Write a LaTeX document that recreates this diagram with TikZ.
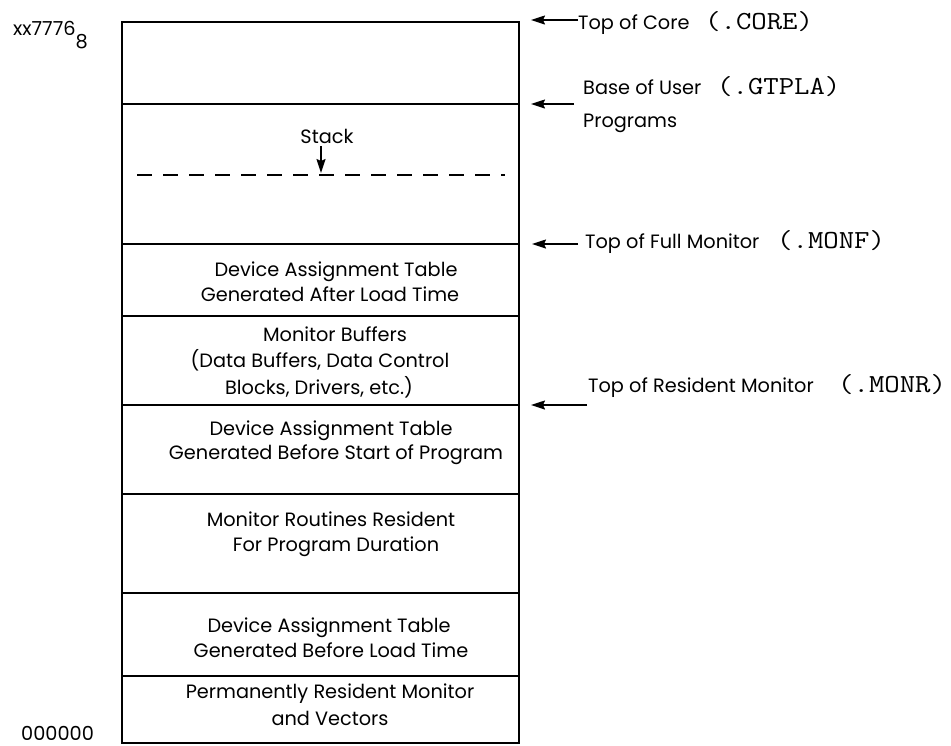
\documentclass[tikz,border=0pt]{standalone}
\usepackage{fontspec}
\newfontfamily\lblfont{Poppins}
\usetikzlibrary{arrows.meta}

% symbolic names in a widened typewriter face
\newcommand{\symname}[1]{\scalebox{1.15}[1]{\ttfamily\fontsize{26}{28}\selectfont #1}}

\tikzset{
  mem/.style={line width=1.4pt},
  txt/.style={font=\lblfont\fontsize{19.3}{22}\selectfont, inner sep=0pt, anchor=base},
  rlbl/.style={font=\lblfont\fontsize{19.3}{22}\selectfont, inner sep=0pt, anchor=base west},
  mlbl/.style={inner sep=0pt, anchor=base west},
  ptr/.style={line width=1.5pt, -{Stealth[length=14pt,width=9pt,inset=2pt]}},
}

\begin{document}
\begin{tikzpicture}[x=1pt,y=-1pt]
\useasboundingbox (0,0) rectangle (951,745);

% memory column
\draw[mem] (122,22) rectangle (519,743);
\foreach \yy in {104,244,316,405,494,593,676}
  \draw[mem] (122,\yy) -- (519,\yy);

% stack boundary
\draw[line width=1.4pt, dash pattern=on 15pt off 11pt] (137,175) -- (505,175);
\node[txt] (stack) at (327,143) {Stack};
\coordinate (stackhead) at (321,173);
\draw[ptr] (stack.south -| stackhead) ++(0,3) -- (stackhead);

% region labels
\node[txt] (datA1) at (336,276) {Device Assignment Table};
\node[txt] (datA2) at (330,301) {Generated After Load Time};

\node[txt] (buf1) at (335,341) {Monitor Buffers};
\node[txt] (buf2) at (320,367) {(Data Buffers, Data Control};
\node[txt] (buf3) at (319,394) {Blocks, Drivers, etc.)};

\node[txt] (datS1) at (331,435) {Device Assignment Table};
\node[txt] (datS2) at (336,459) {Generated Before Start of Program};

\node[txt] (rout1) at (331,526) {Monitor Routines Resident};
\node[txt] (rout2) at (336,551) {For Program Duration};

\node[txt] (datL1) at (329,632) {Device Assignment Table};
\node[txt] (datL2) at (331,657) {Generated Before Load Time};

\node[txt] (perm1) at (330,698) {Permanently Resident Monitor};
\node[txt] (perm2) at (330,725) {and Vectors};

% addresses
\node[rlbl] (hiaddr) at (13,35) {xx7776\raisebox{-13pt}{8}};
\node[rlbl] (loaddr) at (21,740) {000000};

% boundary pointers
\node[rlbl] (core) at (578,29) {Top of Core};
\node[mlbl] (coreS) at (705,29) {\symname{(.CORE)}};
\coordinate (coreT) at (578,20);
\coordinate (coreH) at (531,20);
\draw[ptr] (coreT) -- (coreH);

\node[rlbl] (user) at (583,94) {Base of User};
\node[rlbl] (user2) at (583,127) {Programs};
\node[mlbl] (userS) at (717,94) {\symname{(.GTPLA)}};
\coordinate (userT) at (574,104);
\coordinate (userH) at (531,104);
\draw[ptr] (userT) -- (userH);

\node[rlbl] (monf) at (585,248) {Top of Full Monitor};
\node[mlbl] (monfS) at (777,248) {\symname{(.MONF)}};
\coordinate (monfT) at (578,244);
\coordinate (monfH) at (532,244);
\draw[ptr] (monfT) -- (monfH);

\node[rlbl] (monr) at (588,392) {Top of Resident Monitor};
\node[mlbl] (monrS) at (838,392) {\symname{(.MONR)}};
\coordinate (monrT) at (587,405);
\coordinate (monrH) at (531,405);
\draw[ptr] (monrT) -- (monrH);
\end{tikzpicture}
\end{document}
